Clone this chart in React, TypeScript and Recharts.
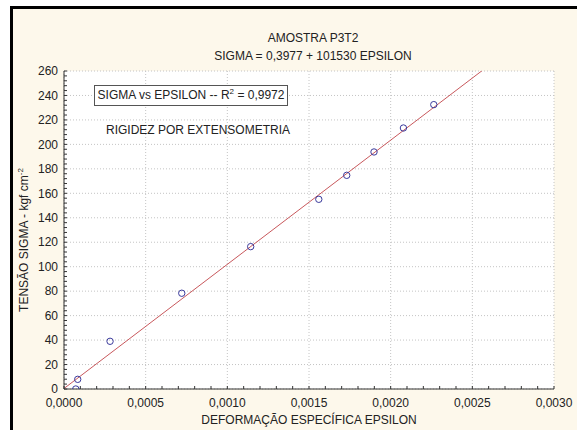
import { ScatterChart, Scatter, XAxis, YAxis, CartesianGrid, ReferenceLine } from 'recharts'

// measured points (strain, stress in kgf/cm2)
const EPSILON = [0.000072, 0.000084, 0.000282, 0.000721, 0.001143, 0.00156, 0.001731, 0.001898, 0.002078, 0.002264]
const SIGMA = [0, 7.9, 39.0, 78.3, 116.4, 155.1, 174.7, 193.8, 213.4, 232.5]

// regression given in the title
const FIT_INTERCEPT = 0.3977
const FIT_SLOPE = 101530

const X_TICKS = [0, 0.0005, 0.001, 0.0015, 0.002, 0.0025, 0.003]
const Y_TICKS = [0, 20, 40, 60, 80, 100, 120, 140, 160, 180, 200, 220, 240, 260]
const X_MINOR = Array.from({ length: 31 }, (_, i) => +(i * 0.0001).toFixed(4))
const Y_MINOR = Array.from({ length: 66 }, (_, i) => i * 4)

const TITLE = 'AMOSTRA P3T2'
const SUBTITLE = 'SIGMA = 0,3977 + 101530 EPSILON'
const NOTE = 'RIGIDEZ POR EXTENSOMETRIA'
const X_LABEL = 'DEFORMAÇÃO ESPECÍFICA EPSILON'

const points = EPSILON.map((e, i) => ({ x: e, y: SIGMA[i] }))
const X_MAX = X_TICKS[X_TICKS.length - 1]
const fitSegment = [
  { x: 0, y: FIT_INTERCEPT },
  { x: X_MAX, y: FIT_INTERCEPT + FIT_SLOPE * X_MAX },
]

const FONT = '"Liberation Sans", Arial, sans-serif'
const tickStyle = { fontSize: 12, fill: '#222', fontFamily: FONT }

const isMajor = (v: number, step: number) => Math.abs(v / step - Math.round(v / step)) < 1e-6
const fmtX = (v: number) => (isMajor(v, 0.0005) ? v.toFixed(4).replace('.', ',') : '')
const fmtY = (v: number) => (isMajor(v, 20) ? String(v) : '')
const blank = () => ''

function Ring(props: any) {
  return <circle cx={props.cx} cy={props.cy} r={3.2} fill="none" stroke="#3a3a9c" strokeWidth={1} />
}

export default function App() {
  return (
    <div style={{ position: 'absolute', left: 0, top: 0, width: 577, height: 430, background: '#fff', fontFamily: FONT, color: '#222' }}>
      <div
        style={{
          position: 'absolute',
          left: 10,
          top: 6,
          width: 567,
          height: 424,
          borderLeft: '3px solid #000',
          borderTop: '3px solid #000',
          background: '#fdf8eb',
        }}
      />
      <ScatterChart width={577} height={430} margin={{ top: 71, right: 23, bottom: 0, left: 0 }} style={{ position: 'absolute', left: 0, top: 0 }}>
        <CartesianGrid
          xAxisId="b"
          yAxisId="l"
          fill="#fff"
          fillOpacity={1}
          stroke="#c4c4c4"
          strokeDasharray="1 2"
          verticalValues={X_TICKS}
          horizontalValues={Y_TICKS}
        />
        <XAxis
          xAxisId="b"
          type="number"
          dataKey="x"
          domain={[0, X_MAX]}
          ticks={X_MINOR}
          interval={0}
          tickFormatter={fmtX}
          tickSize={-3}
          tickMargin={12}
          height={41}
          allowDataOverflow
          axisLine={{ stroke: '#333' }}
          tickLine={{ stroke: '#333' }}
          tick={tickStyle}
        />
        <XAxis
          xAxisId="t"
          orientation="top"
          type="number"
          domain={[0, X_MAX]}
          ticks={X_MINOR}
          interval={0}
          tickFormatter={blank}
          tickSize={-3}
          height={0}
          allowDataOverflow
          axisLine={{ stroke: '#333' }}
          tickLine={{ stroke: '#333' }}
        />
        <YAxis
          yAxisId="l"
          type="number"
          dataKey="y"
          domain={[0, 260]}
          ticks={Y_MINOR}
          interval={0}
          tickFormatter={fmtY}
          tickSize={-3}
          tickMargin={9}
          width={64}
          allowDataOverflow
          axisLine={{ stroke: '#333' }}
          tickLine={{ stroke: '#333' }}
          tick={tickStyle}
        />
        <YAxis
          yAxisId="r"
          orientation="right"
          type="number"
          domain={[0, 260]}
          ticks={Y_MINOR}
          interval={0}
          tickFormatter={blank}
          tickSize={-3}
          width={0}
          allowDataOverflow
          axisLine={{ stroke: '#333' }}
          tickLine={{ stroke: '#333' }}
        />
        <ReferenceLine
          xAxisId="b"
          yAxisId="l"
          segment={fitSegment}
          ifOverflow="hidden"
          stroke="#c8585c"
          strokeWidth={1}
        />
        <Scatter xAxisId="b" yAxisId="l" data={points} shape={Ring} isAnimationActive={false} />
      </ScatterChart>

      <div style={{ position: 'absolute', left: 113, width: 400, top: 31, fontSize: 12, textAlign: 'center', lineHeight: '15px' }}>
        {TITLE}
      </div>
      <div style={{ position: 'absolute', left: 113, width: 400, top: 49, fontSize: 12, textAlign: 'center', lineHeight: '15px' }}>
        {SUBTITLE}
      </div>
      <div
        style={{
          position: 'absolute',
          left: 94,
          top: 85,
          width: 192,
          height: 19,
          border: '1px solid #555',
          background: '#fff',
          fontSize: 12,
          lineHeight: '19px',
          textAlign: 'center',
          whiteSpace: 'nowrap',
        }}
      >
        SIGMA vs EPSILON -- R<sup style={{ fontSize: 8, lineHeight: 0 }}>2</sup> = 0,9972
      </div>
      <div style={{ position: 'absolute', left: 106, top: 123, fontSize: 12, lineHeight: '15px', whiteSpace: 'nowrap' }}>
        {NOTE}
      </div>
      <div
        style={{
          position: 'absolute',
          left: 24,
          top: 240,
          fontSize: 12,
          lineHeight: '15px',
          whiteSpace: 'nowrap',
          transform: 'translate(-50%, -50%) rotate(-90deg)',
        }}
      >
        TENSÃO SIGMA - kgf cm<sup style={{ fontSize: 8, lineHeight: 0 }}>-2</sup>
      </div>
      <div style={{ position: 'absolute', left: 109, width: 400, top: 413, fontSize: 12, textAlign: 'center', lineHeight: '15px' }}>
        {X_LABEL}
      </div>
    </div>
  )
}
